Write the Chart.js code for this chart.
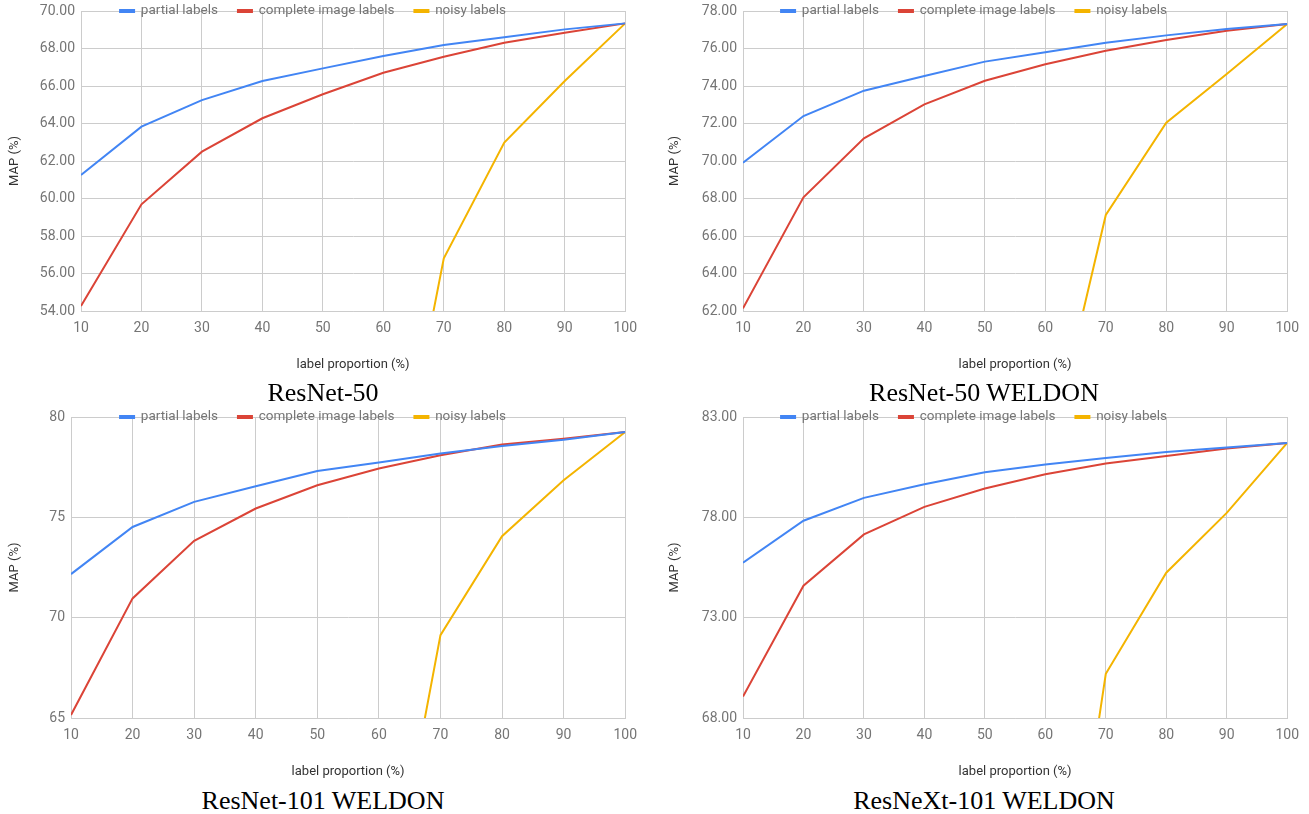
<!DOCTYPE html>
<html>
<head>
  <meta charset="utf-8">
  <style>
    body {
      margin: 0;
      padding: 0;
      background: #fff;
      overflow: hidden;
    }

    #page {
      position: relative;
      width: 1309px;
      height: 814px;
    }

    canvas {
      position: absolute;
      display: block;
    }

    /* Sub-figure captions under each panel */
    .caption {
      position: absolute;
      font-family: "Liberation Serif", "Times New Roman", serif;
      font-size: 26px;
      line-height: 30px;
      color: #000;
      text-align: center;
      z-index: 2;
    }
  </style>
  <script src="https://cdn.jsdelivr.net/npm/chart.js"></script>
</head>
<body>
  <div id="page">
    <canvas id="c1"></canvas>
    <canvas id="c2"></canvas>
    <canvas id="c3"></canvas>
    <canvas id="c4"></canvas>

    <div class="caption" style="left:0px; top:378px; width:646px;">ResNet-50</div>
    <div class="caption" style="left:660px; top:378px; width:648px;">ResNet-50 WELDON</div>
    <div class="caption" style="left:0px; top:786px; width:646px;">ResNet-101 WELDON</div>
    <div class="caption" style="left:660px; top:786px; width:648px;">ResNeXt-101 WELDON</div>
  </div>

  <script>
    // x categories: label proportion (%)
    const proportions = [10, 20, 30, 40, 50, 60, 70, 80, 90, 100];

    const seriesNames = ["partial labels", "complete image labels", "noisy labels"];
    const seriesColors = ["#4285F4", "#DB4437", "#F4B400"];

    // ResNet-50
    const r50Partial  = [61.25, 63.83, 65.25, 66.27, 66.94, 67.60, 68.19, 68.60, 69.02, 69.34];
    const r50Complete = [54.27, 59.69, 62.50, 64.28, 65.56, 66.71, 67.56, 68.31, 68.84, 69.34];
    const r50Noisy    = [null, null, null, null, null, 40.3, 56.81, 62.98, 66.27, 69.34];
    const r50Ticks    = [54, 56, 58, 60, 62, 64, 66, 68, 70];

    // ResNet-50 WELDON
    const r50wPartial  = [69.91, 72.40, 73.75, 74.53, 75.30, 75.80, 76.31, 76.70, 77.04, 77.31];
    const r50wComplete = [62.14, 68.06, 71.21, 73.02, 74.28, 75.16, 75.88, 76.45, 76.95, 77.31];
    const r50wNoisy    = [null, null, null, null, null, 53.4, 67.12, 72.04, 74.64, 77.31];
    const r50wTicks    = [62, 64, 66, 68, 70, 72, 74, 76, 78];

    // ResNet-101 WELDON
    const r101wPartial  = [72.17, 74.52, 75.77, 76.55, 77.31, 77.73, 78.18, 78.56, 78.87, 79.25];
    const r101wComplete = [65.15, 70.96, 73.83, 75.44, 76.60, 77.43, 78.09, 78.63, 78.92, 79.25];
    const r101wNoisy    = [null, null, null, null, null, 52.8, 69.13, 74.06, 76.85, 79.25];
    const r101wTicks    = [65, 70, 75, 80];

    // ResNeXt-101 WELDON
    const rx101wPartial  = [75.74, 77.83, 78.97, 79.65, 80.25, 80.63, 80.96, 81.26, 81.48, 81.71];
    const rx101wComplete = [69.07, 74.59, 77.15, 78.52, 79.44, 80.15, 80.68, 81.06, 81.43, 81.71];
    const rx101wNoisy    = [null, null, null, null, null, 50.2, 70.20, 75.24, 78.22, 81.71];
    const rx101wTicks    = [68, 73, 78, 83];

    Chart.defaults.font.family = "Roboto, Arial, sans-serif";

    const GRID = "#cccccc";
    const LABEL_GREY = "#757575";
    const TITLE_GREY = "#333333";
    const LEGEND_TOP_PAD = 20;   // room kept above the plot (legend itself is moved onto the top line)
    const X_AXIS_HEIGHT = 62;

    // Move the legend so its text sits right on the top gridline, like the Sheets chart
    const legendOnChartTop = {
      id: "legendOnChartTop",
      afterLayout(chart) {
        const legend = chart.legend;
        if (!legend) return;
        const labels = legend.options.labels;
        const size = labels.font.size;
        const h = size + 2 * labels.padding;
        legend.top = chart.chartArea.top - labels.padding - size / 2;
        legend.bottom = legend.top + h;
        legend.height = h;
      }
    };

    // panel layout (plot box in page pixels)
    const panels = [
      { id: "c1", left: 81,  top: 11,  right: 626,  bottom: 311, axisWidth: 81,
        series: [r50Partial, r50Complete, r50Noisy], ticks: r50Ticks, decimals: 2 },
      { id: "c2", left: 743, top: 11,  right: 1288, bottom: 311, axisWidth: 83,
        series: [r50wPartial, r50wComplete, r50wNoisy], ticks: r50wTicks, decimals: 2 },
      { id: "c3", left: 71,  top: 417, right: 626,  bottom: 718, axisWidth: 71,
        series: [r101wPartial, r101wComplete, r101wNoisy], ticks: r101wTicks, decimals: 0 },
      { id: "c4", left: 743, top: 417, right: 1288, bottom: 718, axisWidth: 83,
        series: [rx101wPartial, rx101wComplete, rx101wNoisy], ticks: rx101wTicks, decimals: 2 }
    ];

    function makePanel(p) {
      const canvas = document.getElementById(p.id);
      const plotW = p.right - p.left;
      const plotH = p.bottom - p.top;
      const topInCanvas = LEGEND_TOP_PAD + 1;   // legend box is capped at 1px high

      canvas.width = p.axisWidth + plotW + 20;
      canvas.height = topInCanvas + plotH + X_AXIS_HEIGHT;
      canvas.style.left = (p.left - p.axisWidth) + "px";
      canvas.style.top = (p.top - topInCanvas) + "px";

      const yTicks = p.ticks;

      const chart = new Chart(canvas, {
        type: "line",
        data: {
          datasets: p.series.map((vals, i) => ({
            label: seriesNames[i],
            data: proportions.map((x, j) => ({ x: x, y: vals[j] })),
            borderColor: seriesColors[i],
            backgroundColor: seriesColors[i],
            borderWidth: 2,
            pointRadius: 0,
            pointHoverRadius: 0,
            tension: 0
          }))
        },
        options: {
          responsive: false,
          animation: false,
          layout: {
            padding: { top: LEGEND_TOP_PAD, right: 20, bottom: 0, left: 0 }
          },
          plugins: {
            legend: {
              position: "top",
              maxHeight: 1,
              labels: {
                boxWidth: 14,
                boxHeight: 2,
                padding: 20,
                color: LABEL_GREY,
                font: { size: 13.5 }
              }
            },
            tooltip: { enabled: false }
          },
          scales: {
            x: {
              type: "linear",
              min: proportions[0],
              max: proportions[proportions.length - 1],
              grid: { color: GRID, drawTicks: false },
              border: { color: GRID },
              ticks: {
                stepSize: proportions[1] - proportions[0],
                padding: 9,
                color: LABEL_GREY,
                font: { size: 14 }
              },
              title: {
                display: true,
                text: "label proportion (%)",
                color: TITLE_GREY,
                font: { size: 13 },
                padding: { top: 0, bottom: 0 }
              },
              afterFit: function (scale) {
                scale.height = X_AXIS_HEIGHT;
              }
            },
            y: {
              type: "linear",
              min: yTicks[0],
              max: yTicks[yTicks.length - 1],
              grid: { color: GRID, drawTicks: false },
              border: { color: GRID },
              ticks: {
                stepSize: yTicks[1] - yTicks[0],
                padding: 6,
                color: LABEL_GREY,
                font: { size: 14 },
                callback: function (value) {
                  return value.toFixed(p.decimals);
                }
              },
              title: {
                display: true,
                text: "MAP (%)",
                color: TITLE_GREY,
                font: { size: 13 },
                padding: { top: 7, bottom: 0 }
              },
              afterFit: function (scale) {
                scale.width = p.axisWidth;
              }
            }
          }
        },
        plugins: [legendOnChartTop]
      });

      // nudge the canvas if the plot area did not land where expected
      const dy = p.top - (parseFloat(canvas.style.top) + chart.chartArea.top);
      const dx = p.left - (parseFloat(canvas.style.left) + chart.chartArea.left);
      canvas.style.top = (parseFloat(canvas.style.top) + dy) + "px";
      canvas.style.left = (parseFloat(canvas.style.left) + dx) + "px";
      return chart;
    }

    panels.forEach(makePanel);
  </script>
</body>
</html>
